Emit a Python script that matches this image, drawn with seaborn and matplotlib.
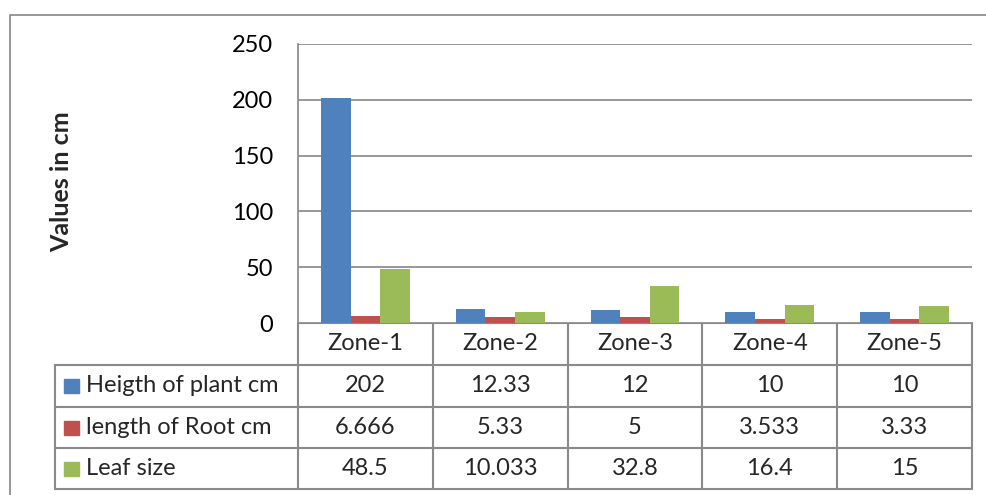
import pandas as pd
import matplotlib.pyplot as plt
import seaborn as sns
from matplotlib.patches import Rectangle

# Данные
zones = ['Zone-1', 'Zone-2', 'Zone-3', 'Zone-4', 'Zone-5']
series_names = ['Heigth of plant cm', 'length of Root cm', 'Leaf size']
height_of_plant = [202, 12.33, 12, 10, 10]
length_of_root = [6.666, 5.33, 5, 3.533, 3.33]
leaf_size = [48.5, 10.033, 32.8, 16.4, 15]
colors = ['#4F81BD', '#C0504D', '#9BBB59']
yticks = [0, 50, 100, 150, 200, 250]

series_values = [height_of_plant, length_of_root, leaf_size]
df = pd.DataFrame({
    'zone': zones * 3,
    'series': [s for s in series_names for _ in zones],
    'value': height_of_plant + length_of_root + leaf_size,
})

sns.set_style('white')
plt.rcParams['font.family'] = ['Lato', 'DejaVu Sans']
grid_col = '#868686'
fs = 17

W, H = 987, 495
fig = plt.figure(figsize=(W / 100, H / 100), dpi=100)

# plot area in pixels
x0, x1, ytop, ybot = 298, 972, 44, 323
ax = fig.add_axes([x0 / W, 1 - ybot / H, (x1 - x0) / W, (ybot - ytop) / H])
sns.barplot(data=df, x='zone', y='value', hue='series', palette=colors,
            width=0.66, gap=0, edgecolor='none', saturation=1, legend=False, ax=ax)
ax.set_ylim(0, 250)
ax.set_xlim(-0.5, len(zones) - 0.5)
ax.set_yticks(yticks)
ax.yaxis.grid(True, color=grid_col, linewidth=1.2)
ax.set_axisbelow(True)
ax.set_xticks([])
ax.set_xlabel('')
ax.set_ylabel('')
for s in ['top', 'right', 'bottom']:
    ax.spines[s].set_visible(False)
ax.spines['left'].set_color(grid_col)
ax.spines['left'].set_linewidth(1.2)
ax.tick_params(axis='y', length=0, pad=18, labelsize=fs, labelcolor='black')

fig.text(62 / W, 1 - 182 / H, 'Values in cm', rotation=90, ha='center', va='center',
         fontsize=18, fontweight='bold')

# overlay in pixel coordinates for the data table
ov = fig.add_axes([0, 0, 1, 1], zorder=-1)
ov.set_xlim(0, W)
ov.set_ylim(H, 0)
ov.axis('off')

# chart border
ov.plot([10, 10, W + 5], [H + 5, 15, 15], color=grid_col, lw=1.2)

col_w = (x1 - x0) / len(zones)
col_edges = [x0 + i * col_w for i in range(len(zones) + 1)]
row_edges = [323, 365, 407, 448, 489]
tbl_left = 55
lw = 1.5
tc = '#8a8a8a'

# horizontal lines
ov.plot([x0, x1], [row_edges[0], row_edges[0]], color=tc, lw=lw)
for y in row_edges[1:]:
    ov.plot([tbl_left, x1], [y, y], color=tc, lw=lw)
# vertical lines
for x in col_edges:
    ov.plot([x, x], [row_edges[0], row_edges[-1]], color=tc, lw=lw)
ov.plot([tbl_left, tbl_left], [row_edges[1], row_edges[-1]], color=tc, lw=lw)

# header
for i, z in enumerate(zones):
    cx = (col_edges[i] + col_edges[i + 1]) / 2
    ov.text(cx, (row_edges[0] + row_edges[1]) / 2, z, ha='center', va='center', fontsize=fs)

# rows
for r, (name, vals, c) in enumerate(zip(series_names, series_values, colors)):
    cy = (row_edges[r + 1] + row_edges[r + 2]) / 2
    ov.add_patch(Rectangle((64, cy - 7), 15, 14, color=c))
    ov.text(86, cy, name, ha='left', va='center', fontsize=fs)
    for i, v in enumerate(vals):
        cx = (col_edges[i] + col_edges[i + 1]) / 2
        ov.text(cx, cy, '{:g}'.format(v), ha='center', va='center', fontsize=fs)

fig.savefig('out.png', dpi=100)
